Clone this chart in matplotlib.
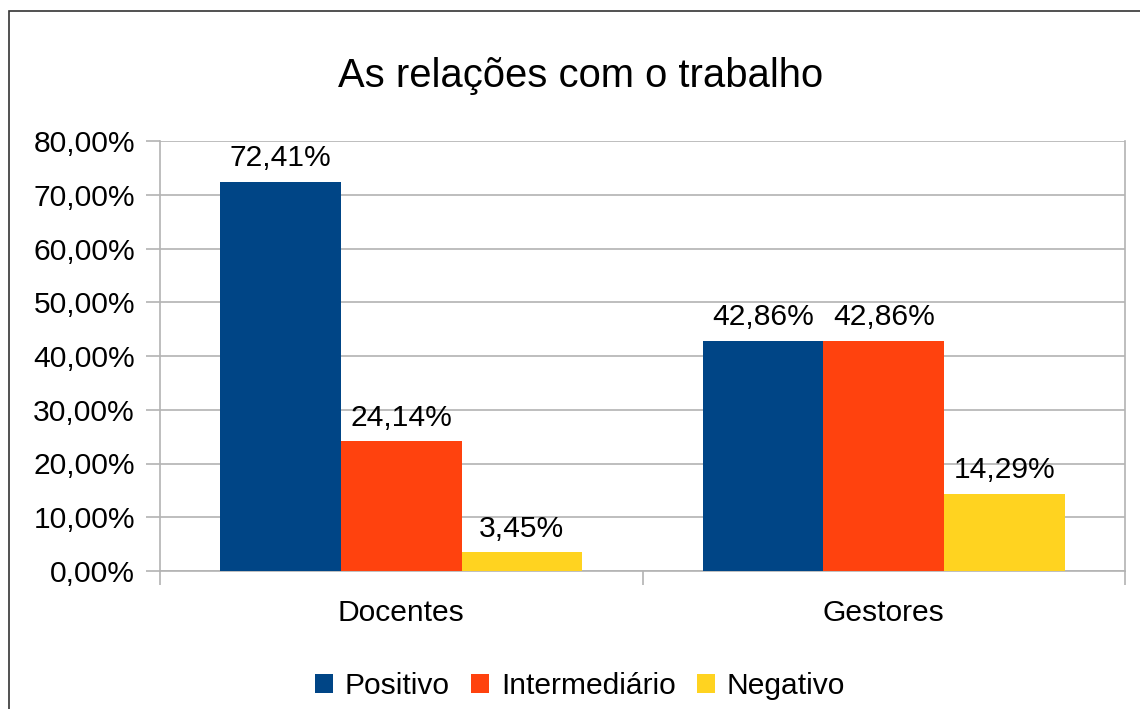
import matplotlib
matplotlib.use("Agg")
import matplotlib.pyplot as plt
from matplotlib.patches import Rectangle, Patch

plt.rcParams['font.family'] = ['Liberation Sans', 'DejaVu Sans']

categories = ["Docentes", "Gestores"]
series = ["Positivo", "Intermediário", "Negativo"]
positivo = [72.41, 42.86]
intermediario = [24.14, 42.86]
negativo = [3.45, 14.29]
values = [positivo, intermediario, negativo]
colors = ["#004586", "#FF420E", "#FFD320"]
yticks = [0, 10, 20, 30, 40, 50, 60, 70, 80]

def fmt(v):
    return f"{v:.2f}".replace(".", ",") + "%"

FS = 21.6
W, H = 1140, 709
fig = plt.figure(figsize=(W/100, H/100), dpi=100)
ax = fig.add_axes([160/W, 1-571/H, (1125-160)/W, (571-141)/H])

grid_c = "#b3b3b3"
width = 0.25
for i, (name, vals, c) in enumerate(zip(series, values, colors)):
    xs = [k + (i-1)*width for k in range(len(categories))]
    ax.bar(xs, vals, width=width, color=c, zorder=3, label=name)
    for x, v in zip(xs, vals):
        ax.annotate(fmt(v), (x, v), xytext=(0, 7), textcoords="offset points",
                    ha="center", va="bottom", fontsize=FS, color="black")

ax.set_xlim(-0.5, 1.5)
ax.set_ylim(0, 80)
ax.set_yticks(yticks)
ax.set_yticklabels([fmt(v) for v in yticks], fontsize=FS)
ax.set_xticks(range(len(categories)))
ax.set_xticklabels(categories, fontsize=FS)
ax.set_xticks([-0.5, 0.5, 1.5], minor=True)
ax.tick_params(axis="x", which="major", length=0, pad=20)
ax.tick_params(axis="x", which="minor", length=10, color=grid_c, width=1.2, direction="out")
ax.tick_params(axis="y", length=10, color=grid_c, width=1.2, pad=8)
ax.yaxis.grid(True, color=grid_c, linewidth=1.2, zorder=0)
ax.set_axisbelow(True)
for s in ax.spines.values():
    s.set_color(grid_c)
    s.set_linewidth(1.2)
ax.spines["top"].set_visible(False)

fig.text(581/W, 1-76/H, "As relações com o trabalho", ha="center", va="center", fontsize=28.8)

handles = [Patch(facecolor=c, edgecolor="none", label=n) for c, n in zip(colors, series)]
fig.legend(handles=handles, loc="center", bbox_to_anchor=(580/W, 1-686/H), ncol=3,
           frameon=False, fontsize=FS, handlelength=0.6, handleheight=0.6,
           handletextpad=0.4, columnspacing=0.7)

fig.add_artist(Rectangle((9/W, -0.1), 1.2, 1.1 - 11/H, transform=fig.transFigure,
                         fill=False, edgecolor="#333333", linewidth=1.2, clip_on=False))

fig.savefig("out.png", dpi=100)
